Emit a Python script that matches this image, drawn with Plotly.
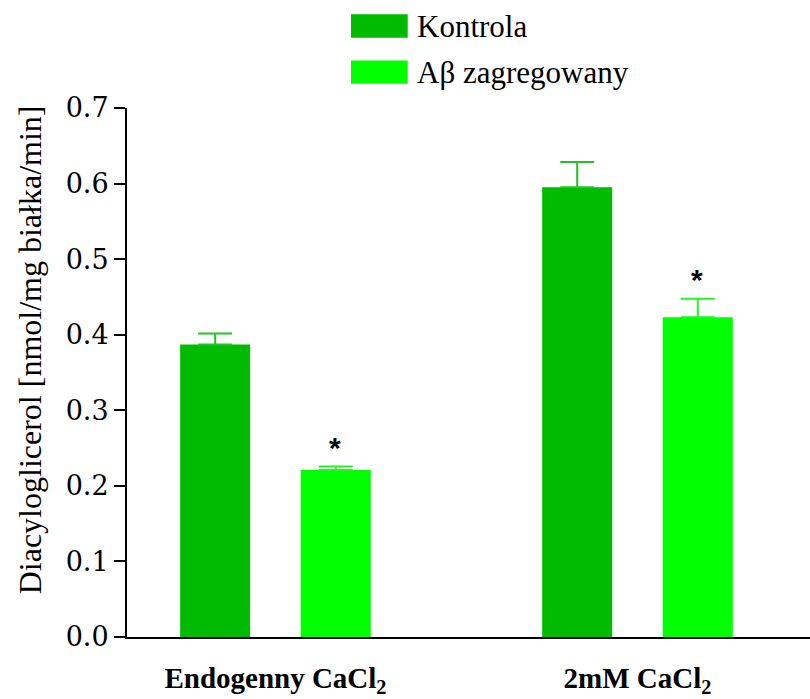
import plotly.graph_objects as go

categories = ["<b>Endogenny CaCl<sub>2</sub></b>", "<b>2mM CaCl<sub>2</sub></b>"]
series_names = ["Kontrola", "Aβ zagregowany"]
kontrola = [0.387, 0.595]
kontrola_err = [0.0145, 0.0335]
abeta = [0.221, 0.423]
abeta_err = [0.0045, 0.0245]
significant = [True, True]
y_ticks = [0.0, 0.1, 0.2, 0.3, 0.4, 0.5, 0.6, 0.7]
y_title = "Diacyloglicerol [nmol/mg białka/min]"

bar_colors = ["#00BB00", "#00FF00"]
err_colors = ["#22C422", "#22F522"]

SERIF = "Liberation Serif, Times New Roman, serif"
TICKSERIF = "DejaVu Serif, Bitstream Vera Serif, serif"

fig = go.Figure()
for name, vals, errs, col, ecol in zip(series_names, [kontrola, abeta], [kontrola_err, abeta_err], bar_colors, err_colors):
    fig.add_trace(go.Bar(
        x=categories, y=vals, name=name,
        marker=dict(color=col, line=dict(width=0)),
        error_y=dict(type="data", array=errs, symmetric=False, arrayminus=[0]*len(errs),
                     color=ecol, thickness=2, width=17),
        showlegend=False,
    ))

# significance asterisks above the Aβ bars
for cat, v, e, s in zip(categories, abeta, abeta_err, significant):
    if s:
        fig.add_annotation(x=cat, y=v + e, xref="x", yref="y", text="<b>*</b>",
                           showarrow=False, xshift=60, yshift=19, yanchor="middle",
                           font=dict(family="Liberation Sans, Arial, sans-serif", size=30, color="black"))

# custom legend
leg_y = [1.155, 1.068]
for name, col, ly in zip(series_names, bar_colors, leg_y):
    fig.add_shape(type="rect", xref="paper", yref="paper",
                  x0=0.328, x1=0.411, y0=ly - 0.022, y1=ly + 0.022,
                  fillcolor=col, line=dict(width=0))
    fig.add_annotation(xref="paper", yref="paper", x=0.421, y=ly, text=name,
                       showarrow=False, xanchor="left", yanchor="middle",
                       font=dict(family=SERIF, size=31, color="black"))

# y-axis title
fig.add_annotation(xref="paper", yref="paper", x=-0.142, y=0.542, text=y_title,
                   textangle=-90, showarrow=False, xanchor="center", yanchor="middle",
                   font=dict(family=SERIF, size=32, color="black"))

fig.update_layout(
    width=810, height=699,
    margin=dict(l=127, r=0, t=108, b=62, autoexpand=False),
    paper_bgcolor="white", plot_bgcolor="white",
    barmode="group", bargap=0.334, bargroupgap=0.419,
    showlegend=False,
)
fig.update_xaxes(
    range=[-0.41, 1.4765], showline=True, linecolor="black", linewidth=2,
    ticks="", showgrid=False, zeroline=False, ticklabelstandoff=14, automargin=False,
    tickfont=dict(family=SERIF, size=29, color="black"),
)
fig.update_yaxes(
    range=[0, 0.7], tickvals=y_ticks, ticktext=[f"{t:.1f}" for t in y_ticks],
    showline=True, linecolor="black", linewidth=2, automargin=False,
    ticks="outside", ticklen=11, tickwidth=2, tickcolor="black",
    showgrid=False, zeroline=False,
    tickfont=dict(family=TICKSERIF, size=27, color="black"),
)

fig.write_html("out.html")
